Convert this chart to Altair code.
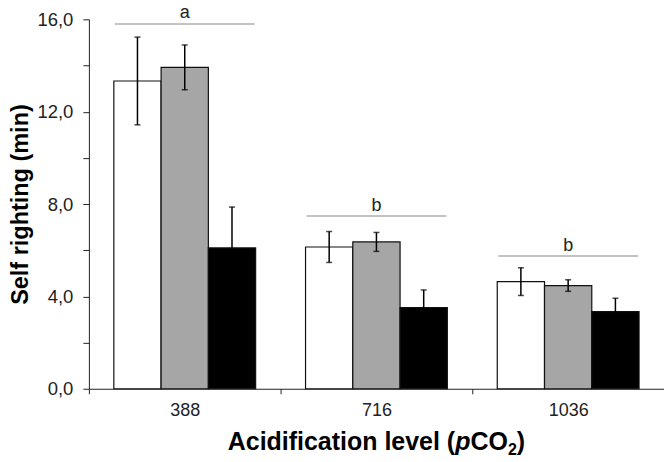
import altair as alt
import pandas as pd

levels = ["388", "716", "1036"]
treatments = ["T1", "T2", "T3"]
means_t1 = [13.33, 6.14, 4.64]
means_t2 = [13.92, 6.36, 4.47]
means_t3 = [6.10, 3.52, 3.34]
err_t1 = [1.90, 0.67, 0.60]
err_t2 = [0.97, 0.41, 0.25]
err_t3 = [1.77, 0.76, 0.58]
letters = ["a", "b", "b"]
letter_y = [15.8, 7.48, 5.75]
bar_colors = ["#ffffff", "#a6a6a6", "#000000"]
x_title_parts = ["Acidification level (", "p", "CO", "2", ")"]

rows = []
for t, m, e in zip(treatments, [means_t1, means_t2, means_t3], [err_t1, err_t2, err_t3]):
    for lv, mv, ev in zip(levels, m, e):
        rows.append({"level": lv, "trt": t, "mean": mv, "lo": mv - ev, "hi": mv + ev})
df = pd.DataFrame(rows)
sig = pd.DataFrame({"level": levels, "letter": letters, "y": letter_y})

FONT = "Liberation Sans"
W, H = 576, 370

x_enc = alt.X("level:N", sort=levels, scale=alt.Scale(paddingInner=0, paddingOuter=0),
              axis=alt.Axis(title=None, labelAngle=0, tickBand="extent",
                            tickSize=5, labelPadding=8, labelFontSize=18, labelColor="#222",
                            domainColor="#222", tickColor="#222", labelFont=FONT))
xo = alt.XOffset("trt:N", sort=treatments, scale=alt.Scale(paddingOuter=0.528, paddingInner=0))
y_scale = alt.Scale(domain=[0, 16], nice=False)

bars = alt.Chart(df).mark_bar(stroke="#111", strokeWidth=1.2).encode(
    x=x_enc,
    xOffset=xo,
    y=alt.Y("mean:Q", scale=y_scale,
            axis=alt.Axis(title="Self righting (min)", values=list(range(0, 17, 2)),
                          labelExpr="datum.value % 4 == 0 ? replace(format(datum.value, '.1f'), '.', ',') : ''",
                          tickSize=6, labelPadding=10, labelFontSize=18.5, labelColor="#222",
                          titleFontSize=23.5, titleFontWeight="bold", titlePadding=4,
                          titleColor="#000", domainColor="#222", tickColor="#222", grid=False,
                          labelFont=FONT, titleFont=FONT)),
    color=alt.Color("trt:N", sort=treatments, scale=alt.Scale(domain=treatments, range=bar_colors), legend=None),
)

err = alt.Chart(df).mark_rule(color="#000", strokeWidth=1.5).encode(
    x=alt.X("level:N", sort=levels), xOffset=xo, y="lo:Q", y2="hi:Q")
cap_hi = alt.Chart(df).mark_tick(color="#000", thickness=1.5, size=6).encode(
    x=alt.X("level:N", sort=levels), xOffset=xo, y="hi:Q")
cap_lo = alt.Chart(df).mark_tick(color="#000", thickness=1.5, size=6).encode(
    x=alt.X("level:N", sort=levels), xOffset=xo, y="lo:Q")

sig_line = alt.Chart(sig).mark_tick(color="#555", thickness=1, size=140).encode(
    x=alt.X("level:N", sort=levels), y="y:Q")
sig_text = alt.Chart(sig).mark_text(baseline="alphabetic", dy=-5.5, fontSize=18, font=FONT, color="#222").encode(
    x=alt.X("level:N", sort=levels), y="y:Q", text="letter:N")

# x-axis title built from pieces (italic p, subscript 2)
one = pd.DataFrame({"k": [0]})
TS = 25
sub_s = 16
em = {"main": 9.114, "p": 0.611, "CO": 1.5, "2": 0.556, ")": 0.333}
total = (em["main"] + em["p"] + em["CO"] + em[")"]) * TS + em["2"] * sub_s
x0 = W / 2 - total / 2
xs = [x0]
xs.append(xs[-1] + em["main"] * TS)
xs.append(xs[-1] + em["p"] * TS)
xs.append(xs[-1] + em["CO"] * TS)
xs.append(xs[-1] + em["2"] * sub_s)
base_y = H + 61
styles = [
    dict(fontSize=TS, fontStyle="normal", dy=0),
    dict(fontSize=TS, fontStyle="italic", dy=0),
    dict(fontSize=TS, fontStyle="normal", dy=0),
    dict(fontSize=sub_s, fontStyle="normal", dy=5),
    dict(fontSize=TS, fontStyle="normal", dy=0),
]
title_layers = []
for part, xp, st in zip(x_title_parts, xs, styles):
    title_layers.append(
        alt.Chart(one).mark_text(align="left", baseline="alphabetic", font=FONT, fontWeight="bold",
                                 color="#000", **st).encode(
            x=alt.value(xp), y=alt.value(base_y), text=alt.value(part))
    )

chart = alt.layer(bars, err, cap_hi, cap_lo, sig_line, sig_text, *title_layers).properties(
    width=W, height=H,
    autosize=alt.AutoSizeParams(type="none"),
    padding={"left": 81, "top": 11, "right": 0, "bottom": 71},
).configure_view(stroke=None)

chart.save("out.html", embed_options={"renderer": "svg", "actions": False})
